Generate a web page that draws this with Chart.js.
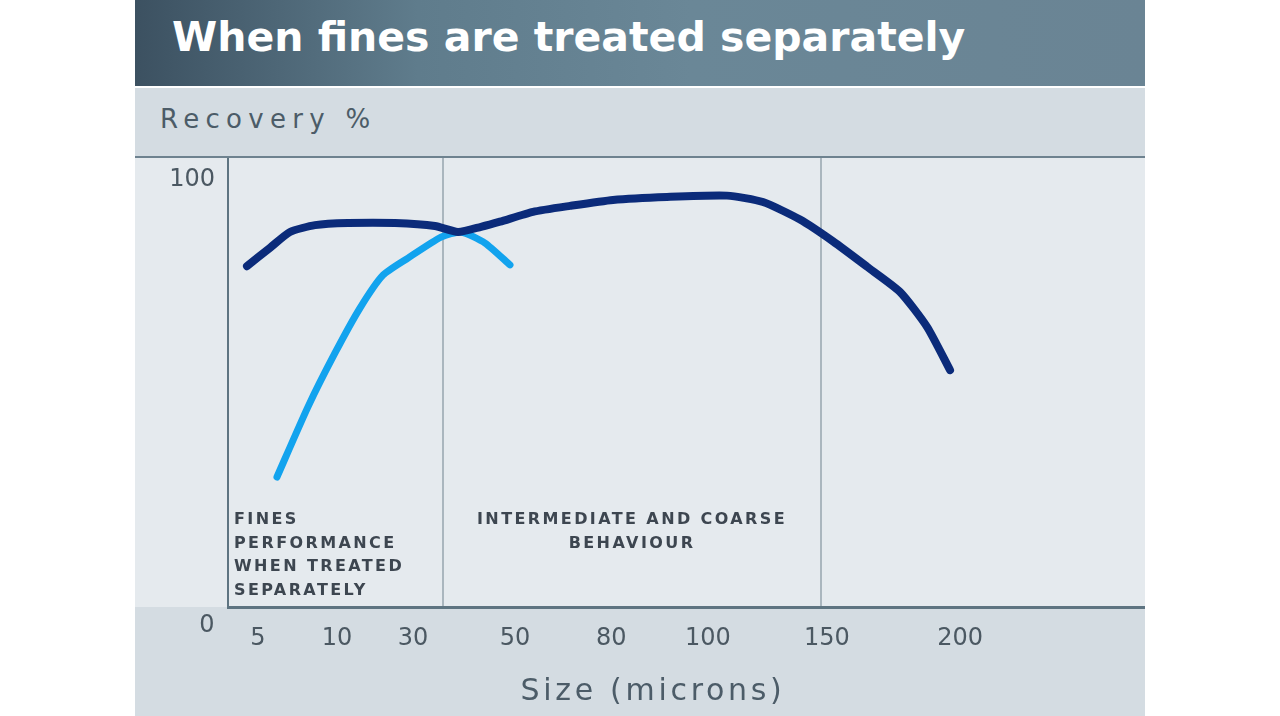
<!DOCTYPE html>
<html>
<head>
<meta charset="utf-8">
<script src="https://cdn.jsdelivr.net/npm/chart.js@4.4.0/dist/chart.umd.min.js"></script>
<style>
  body { margin: 0; background: #fff; width: 1280px; height: 716px; overflow: hidden; position: relative; font-family: "DejaVu Sans", sans-serif; }
  #header { position: absolute; left: 135px; top: 0; width: 1010px; height: 86px;
    background: linear-gradient(90deg, #3c5161 0%, #5f7c8c 28%, #6a8797 55%, #6a8494 100%); }
  #header h1 { margin: 0; position: absolute; left: 37px; top: 13px; color: #fff; font: bold 41px "DejaVu Sans", sans-serif; }
  #band { position: absolute; left: 135px; top: 88px; width: 1010px; height: 68px; background: #d4dce2; border-bottom: 2px solid #6e828f; }
  #band span { position: absolute; left: 25px; top: 16px; color: #4c5c68; font-size: 26px; letter-spacing: 6.3px; }
  #wrap { position: absolute; left: 135px; top: 158px; width: 1010px; height: 558px; background: #d4dce2; }
  #xtitle { position: absolute; left: 135px; width: 1010px; top: 672px; text-align: center; color: #4c5c68; font-size: 30px; letter-spacing: 3.7px; padding-left: 26px; box-sizing: border-box; }
</style>
</head>
<body>
<div id="header"><h1>When fines are treated separately</h1></div>
<div id="band"><span>Recovery %</span></div>
<div id="wrap"><canvas id="myChart" width="1010" height="558"></canvas></div>
<div id="xtitle">Size (microns)</div>
<script>
// x values are positions along the (non linear) size axis, 0..100
var xTickPos = [3.27, 11.89, 20.17, 31.3, 41.8, 52.34, 65.32, 79.83];
var xTickLabels = ['5', '10', '30', '50', '80', '100', '150', '200'];
var dividers = [23.45, 64.67];

var combinedX = [2.07, 4.58, 6.76, 9.49, 13.09, 18.21, 22.57, 25.08, 27.59, 29.66, 33.26, 37.3, 41.98, 47.87, 54.42, 58.34, 62.38, 65.98, 69.68, 73.28, 76.23, 78.74];
var combinedY = [79.7, 84.0, 87.7, 89.3, 89.8, 89.8, 89.1, 87.7, 88.9, 90.1, 92.4, 93.8, 95.2, 95.9, 96.2, 94.7, 90.6, 85.5, 79.6, 73.7, 65.5, 55.4];

var finesX = [5.34, 8.72, 11.67, 14.39, 16.9, 19.63, 23.23, 25.41, 28.03, 30.75];
var finesY = [30.4, 46.8, 59.4, 69.9, 77.6, 81.6, 86.5, 87.7, 85.1, 80.0];

function toPoints(xs, ys) {
  var pts = [];
  for (var i = 0; i < xs.length; i++) {
    pts.push({x: xs[i], y: ys[i]});
  }
  return pts;
}

var notes = {
  id: 'notes',
  beforeDraw: function(chart) {
    var ctx = chart.ctx;
    ctx.save();
    ctx.fillStyle = '#e5eaee';
    ctx.fillRect(0, 0, chart.width, chart.chartArea.bottom);
    ctx.restore();
  },
  afterDraw: function(chart) {
    var ctx = chart.ctx;
    var xs = chart.scales.x, ys = chart.scales.y;
    ctx.save();
    // origin label
    ctx.fillStyle = '#4b5862';
    ctx.font = '24px "DejaVu Sans"';
    ctx.textAlign = 'center';
    ctx.textBaseline = 'middle';
    ctx.fillText('0', 72, ys.getPixelForValue(0) + 19);

    ctx.fillStyle = '#3d4650';
    ctx.font = 'bold 16px "DejaVu Sans"';
    ctx.letterSpacing = '2.4px';
    var top = ys.getPixelForValue(20.3);
    var left = ['FINES', 'PERFORMANCE', 'WHEN TREATED', 'SEPARATELY'];
    ctx.textAlign = 'left';
    for (var i = 0; i < left.length; i++) {
      ctx.fillText(left[i], xs.getPixelForValue(0.65), top + i * 23.5);
    }
    var mid = ['INTERMEDIATE AND COARSE', 'BEHAVIOUR'];
    ctx.textAlign = 'center';
    for (var j = 0; j < mid.length; j++) {
      ctx.fillText(mid[j], xs.getPixelForValue(44.06), top + j * 23.5);
    }
    ctx.restore();
  }
};

var ctx = document.getElementById('myChart').getContext('2d');
var chart = new Chart(ctx, {
  type: 'line',
  data: {
    datasets: [{
      label: 'Combined treatment',
      data: toPoints(combinedX, combinedY),
      borderColor: '#0b2b7a',
      borderWidth: 8,
      pointRadius: 0,
      tension: 0.2,
      borderCapStyle: 'round',
      borderJoinStyle: 'round'
    }, {
      label: 'Fines treated separately',
      data: toPoints(finesX, finesY),
      borderColor: '#12a3ee',
      borderWidth: 7,
      pointRadius: 0,
      tension: 0.2,
      borderCapStyle: 'round',
      borderJoinStyle: 'round'
    }]
  },
  options: {
    responsive: false,
    animation: false,
    layout: { padding: 0 },
    plugins: { legend: { display: false }, tooltip: { enabled: false } },
    scales: {
      x: {
        type: 'linear',
        min: 0,
        max: 100,
        afterFit: function(scale) {
          scale.height = 109;
          scale.paddingLeft = 0;
          scale.paddingRight = 0;
        },
        afterBuildTicks: function(scale) {
          scale.ticks = xTickPos.concat(dividers).map(function(v) { return {value: v}; });
        },
        grid: {
          drawTicks: false,
          lineWidth: 2,
          color: function(c) {
            return (c.tick && dividers.indexOf(c.tick.value) >= 0) ? '#aab6be' : 'rgba(0,0,0,0)';
          }
        },
        border: { display: true, color: '#5e7481', width: 3 },
        ticks: {
          autoSkip: false,
          maxRotation: 0,
          padding: 17,
          color: '#4b5862',
          font: { family: 'DejaVu Sans', size: 24 },
          callback: function(v) {
            var k = xTickPos.indexOf(v);
            return k >= 0 ? xTickLabels[k] : '';
          }
        }
      },
      y: {
        min: 0,
        max: 105,
        afterFit: function(scale) {
          scale.width = 93;
          scale.paddingTop = 0;
          scale.paddingBottom = 0;
        },
        afterBuildTicks: function(scale) { scale.ticks = [{value: 100}]; },
        grid: { display: false, drawTicks: false },
        border: { display: true, color: '#5e7481', width: 2 },
        ticks: {
          padding: 13,
          color: '#4b5862',
          font: { family: 'DejaVu Sans', size: 24 }
        }
      }
    }
  },
  plugins: [notes]
});
</script>
</body>
</html>
